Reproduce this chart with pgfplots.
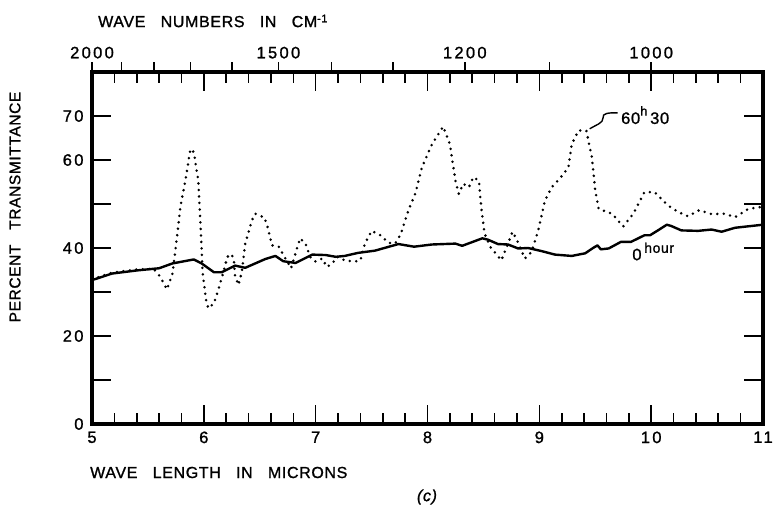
\documentclass[border=0pt]{standalone}
\usepackage{fontspec}
\setmainfont{Liberation Sans}[LetterSpace=4,WordSpace=3,FakeBold=1.2]
\newfontfamily\tickfont{Liberation Sans}[LetterSpace=14,FakeBold=1.2]
\usepackage{pgfplots}
\pgfplotsset{compat=1.18}

\begin{document}
\begin{tikzpicture}
% lower/inner frame: wavelength in microns, percent transmittance
\begin{axis}[
  at={(92pt,-424pt)}, anchor=south west,
  width=671pt, height=352pt, scale only axis,
  xmin=5, xmax=11, ymin=0, ymax=80,
  xtick={5,6,...,11}, minor x tick num=4,
  ytick={0,10,...,70}, yticklabels={0,,20,,40,,60,70},
  tick align=inside,
  major tick length=19pt, minor tick length=11pt,
  tick style={line width=1.6pt,black},
  axis line style={draw=none},
  /pgf/number format/assume math mode=true,
  ticklabel style={font=\tickfont\fontsize{16.5}{16.5}\selectfont},
  xticklabel style={yshift=-4pt},
  yticklabel style={xshift=-5pt},
  xticklabel pos=left, yticklabel pos=left,
  clip=false,
]
% heavy frame
\draw[line width=3.2pt, line cap=rect] (rel axis cs:0,0) rectangle (rel axis cs:1,1);
% 0 hour
\addplot[line width=2.4pt, line join=round] coordinates {
(5.00,32.7) (5.18,34.2) (5.40,34.9) (5.60,35.4) (5.72,36.5) (5.91,37.4)
(5.98,36.5) (6.09,34.5) (6.16,34.5) (6.28,36.0) (6.37,35.5) (6.55,37.5)
(6.64,38.2) (6.71,37.0) (6.82,36.6) (6.97,38.5) (7.09,38.4) (7.18,38.0)
(7.26,38.2) (7.38,38.9) (7.53,39.4) (7.74,40.9) (7.88,40.3) (8.04,40.8)
(8.25,41.0) (8.31,40.5) (8.49,42.2) (8.54,41.9) (8.63,40.9) (8.72,40.8)
(8.81,39.9) (8.90,40.0) (9.02,39.3) (9.14,38.5) (9.29,38.2) (9.41,38.8)
(9.48,40.0) (9.52,40.6) (9.55,39.7) (9.62,39.9) (9.73,41.4) (9.82,41.4)
(9.94,42.9) (9.99,42.9) (10.06,44.0) (10.14,45.3) (10.18,45.0) (10.27,44.0)
(10.42,43.9) (10.54,44.2) (10.63,43.7) (10.75,44.6) (11.00,45.3)
};
% 60 h 30
\addplot[line width=2.8pt, line cap=round, dash pattern=on 0pt off 6.5pt] coordinates {
(5.00,32.9) (5.18,34.4) (5.40,35.1) (5.55,35.3) (5.61,33.5) (5.67,30.6)
(5.72,34.2) (5.75,40.3) (5.79,49.3) (5.84,56.1) (5.88,62.5) (5.91,61.8)
(5.95,55.3) (5.97,45.5) (5.99,34.2) (6.02,28.2) (6.04,26.3) (6.09,27.4)
(6.13,30.5) (6.18,35.0) (6.21,38.0) (6.25,38.6) (6.27,36.9) (6.28,33.5)
(6.31,31.6) (6.34,34.6) (6.37,41.0) (6.43,46.3) (6.46,47.8) (6.50,47.3)
(6.54,47.0) (6.57,44.8) (6.61,40.6) (6.67,40.3) (6.73,37.6) (6.78,35.4)
(6.82,38.8) (6.86,42.2) (6.91,41.0) (6.95,38.0) (7.00,36.9) (7.06,37.6)
(7.10,35.7) (7.15,36.5) (7.19,38.0) (7.26,37.2) (7.35,36.9) (7.40,37.2)
(7.44,41.0) (7.50,43.9) (7.58,42.9) (7.65,41.2) (7.71,41.0) (7.76,43.1)
(7.83,48.6) (7.89,52.3) (7.95,58.3) (8.04,63.6) (8.14,67.6) (8.20,63.6)
(8.25,55.3) (8.28,52.3) (8.32,54.6) (8.37,53.8) (8.41,56.1) (8.46,55.3)
(8.48,49.3) (8.51,43.3) (8.56,40.3) (8.66,37.2) (8.72,41.0) (8.76,43.7)
(8.80,41.8) (8.87,37.6) (8.93,39.1) (8.99,44.0) (9.05,50.8) (9.11,53.8)
(9.18,55.7) (9.26,58.3) (9.29,63.6) (9.35,66.7) (9.42,66.7) (9.47,60.6)
(9.50,53.1) (9.53,48.9) (9.65,47.8) (9.75,44.9) (9.84,47.8) (9.94,52.7)
(10.03,52.7) (10.15,49.7) (10.24,48.2) (10.33,47.2) (10.43,48.6) (10.54,47.7)
(10.66,47.8) (10.75,47.0) (10.87,48.9) (11.00,49.4)
};
% curve labels
\draw[line width=1.4pt] (axis cs:9.70,70.7)
  .. controls (axis cs:9.62,70.8) and (axis cs:9.56,70.6) .. (axis cs:9.57,69.6)
  .. controls (axis cs:9.575,68.4) and (axis cs:9.50,67.9) .. (axis cs:9.45,67.1);
\node[anchor=west, inner sep=0pt, font=\fontsize{16.5}{16.5}\selectfont]
  at (axis cs:9.73,70.2) {60\raisebox{0.5em}{\fontsize{13}{13}\selectfont h}\,30};
\node[anchor=west, inner sep=0pt, font=\fontsize{16.5}{16.5}\selectfont]
  at (axis cs:9.83,39.2) {0\,\raisebox{0.45em}{\fontsize{14}{14}\selectfont hour}};
\end{axis}
% upper scale: wave numbers in cm^-1
\begin{axis}[
  at={(92pt,-424pt)}, anchor=south west,
  width=671pt, height=352pt, scale only axis,
  xmin=5, xmax=11, ymin=0, ymax=80,
  axis x line*=top, axis y line=none,
  axis line style={draw=none},
  xtick={5,5.26316,5.55556,5.88235,6.25,6.66667,7.14286,7.69231,8.33333,9.09091,10},
  xticklabels={2000,,,,,1500,,,1200,,1000},
  tick align=outside, major tick length=10pt,
  tick style={line width=1.6pt,black},
  /pgf/number format/assume math mode=true,
  ticklabel style={font=\tickfont\fontsize{16.5}{16.5}\selectfont},
]
\addplot[draw=none] coordinates {(5,0) (11,0)};
\end{axis}
% titles
\node[anchor=west, inner sep=0pt, font=\fontsize{16}{16}\selectfont]
  at (98pt,-21pt) {WAVE NUMBERS IN CM\raisebox{0.3em}{\fontsize{11}{11}\selectfont -1}};
\node[rotate=90, inner sep=0pt, font=\fontsize{15.5}{15.5}\selectfont]
  at (15pt,-207pt) {PERCENT TRANSMITTANCE};
\node[anchor=west, inner sep=0pt, font=\fontsize{16}{16}\selectfont]
  at (90pt,-472.5pt) {WAVE LENGTH IN MICRONS};
\node[inner sep=0pt, font=\fontsize{16}{16}\selectfont\itshape]
  at (427pt,-497pt) {(c)};
\pgfresetboundingbox
\useasboundingbox (0pt,0pt) rectangle (773pt,-507pt);
\end{tikzpicture}
\end{document}
